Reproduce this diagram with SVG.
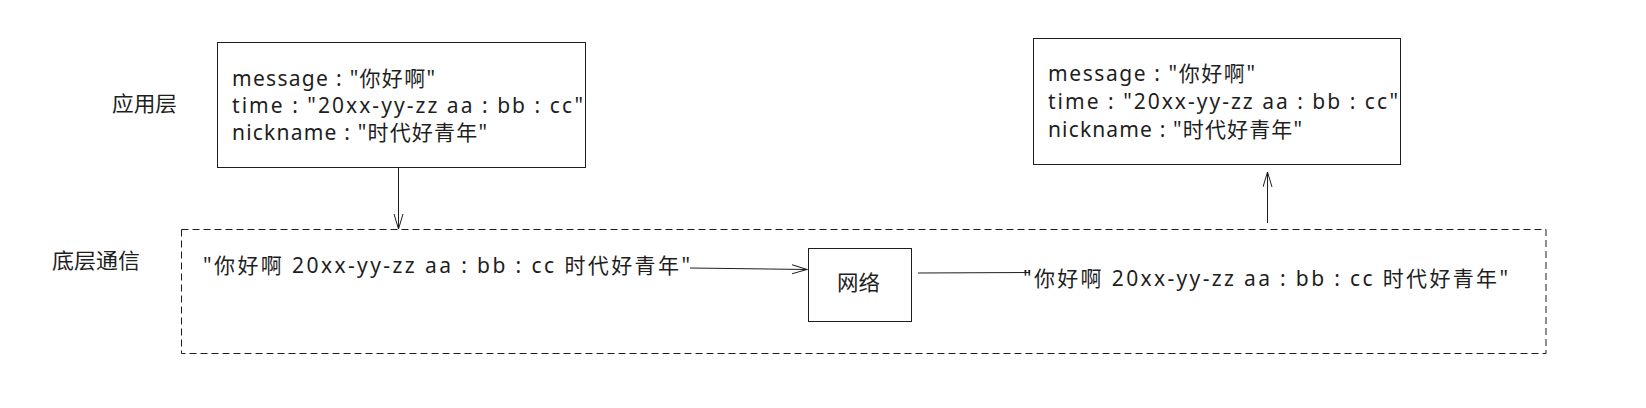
<svg xmlns="http://www.w3.org/2000/svg" width="1646" height="408" viewBox="0 0 1646 408">
  <style>
    .t { font-family: "Noto Sans", "Noto Sans CJK SC", sans-serif; font-size: 21px; fill: #1e1e1e; }
    .box { fill: #ffffff; stroke: #1e1e1e; stroke-width: 1; }
    .dash { fill: none; stroke: #1e1e1e; stroke-width: 1; stroke-dasharray: 7 4; }
    .line { fill: none; stroke: #1e1e1e; stroke-width: 1; }
  </style>
  <defs>
    <marker id="arrow" markerUnits="userSpaceOnUse" markerWidth="18" markerHeight="12" refX="15" refY="5" orient="auto">
      <path d="M0,0.5 L15,5 L0,9.5" fill="none" stroke="#1e1e1e" stroke-width="1"/>
    </marker>
  </defs>
  <rect width="1646" height="408" fill="#ffffff"/>

  <g id="label-app">
    <text class="t" x="112" y="111" textLength="65" lengthAdjust="spacingAndGlyphs">应用层</text>
  </g>
  <g id="label-bottom">
    <text class="t" x="52" y="268" textLength="88" lengthAdjust="spacingAndGlyphs">底层通信</text>
  </g>

  <g id="layer-bottom">
    <rect class="dash" x="181.5" y="229.5" width="1364.5" height="124"/>
  </g>

  <g id="app-left">
    <rect class="box" x="217.5" y="42.5" width="368" height="125"/>
    <text class="t" x="232" y="86" textLength="203" lengthAdjust="spacing">message : "你好啊"</text>
    <text class="t" x="232" y="113" textLength="351" lengthAdjust="spacing">time : "20xx-yy-zz aa : bb : cc"</text>
    <text class="t" x="232" y="140" textLength="255" lengthAdjust="spacing">nickname : "时代好青年"</text>
  </g>

  <g id="app-right">
    <rect class="box" x="1033.5" y="38.5" width="367" height="126"/>
    <text class="t" x="1048" y="81" textLength="207" lengthAdjust="spacing">message : "你好啊"</text>
    <text class="t" x="1048" y="109" textLength="350" lengthAdjust="spacing">time : "20xx-yy-zz aa : bb : cc"</text>
    <text class="t" x="1048" y="137" textLength="254" lengthAdjust="spacing">nickname : "时代好青年"</text>
  </g>

  <g id="msg-left">
    <text class="t" x="203" y="273" textLength="487" lengthAdjust="spacing">"你好啊 20xx-yy-zz aa : bb : cc 时代好青年"</text>
  </g>

  <g id="network">
    <rect class="box" x="808.5" y="248.5" width="103" height="73"/>
    <text class="t" x="837" y="290" textLength="43" lengthAdjust="spacingAndGlyphs">网络</text>
  </g>

  <g id="msg-right">
    <text class="t" x="1023" y="286" textLength="485" lengthAdjust="spacing">"你好啊 20xx-yy-zz aa : bb : cc 时代好青年"</text>
  </g>

  <g id="connectors">
    <line class="line" x1="398.5" y1="168" x2="398.5" y2="229" marker-end="url(#arrow)"/>
    <line class="line" x1="690" y1="268" x2="807" y2="269.5" marker-end="url(#arrow)"/>
    <line class="line" x1="918" y1="273" x2="1030" y2="272.5"/>
    <line class="line" x1="1267.5" y1="223" x2="1267.5" y2="172" marker-end="url(#arrow)"/>
  </g>
</svg>
